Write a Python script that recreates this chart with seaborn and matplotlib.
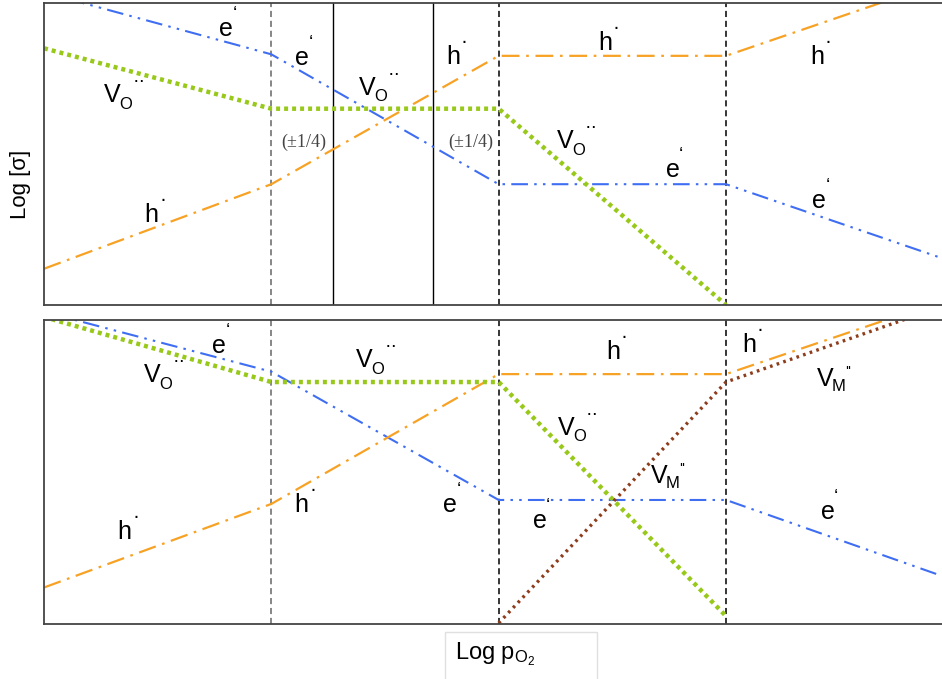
import seaborn as sns
import matplotlib.pyplot as plt
from matplotlib.patches import Rectangle

sns.set_style("white")
plt.rcParams["font.family"] = ["Liberation Sans", "DejaVu Sans"]
plt.rcParams["text.color"] = "black"
plt.rcParams["axes.labelcolor"] = "black"
plt.rcParams["mathtext.fontset"] = "custom"
plt.rcParams["mathtext.rm"] = "Liberation Sans"
plt.rcParams["mathtext.it"] = "Liberation Sans"
plt.rcParams["mathtext.bf"] = "Liberation Sans"

# Log pO2 breakpoints (arbitrary units) and read-off log values
x_full = [-1.0, 0.0, 1.0, 2.0, 2.95]
x_vo = [-1.0, 0.0, 1.0, 2.0]
x_vm = [1.0, 2.0, 2.95]

sigma_e = [10.35, 8.3, 4.0, 4.0, 1.55]
sigma_h = [1.2, 4.0, 8.25, 8.25, 10.7]
sigma_vo = [8.5, 6.5, 6.5, 0.0]

defects_e = [10.27, 8.3, 4.08, 4.08, 1.58]
defects_h = [1.2, 3.95, 8.22, 8.22, 10.63]
defects_vo = [10.1, 7.96, 7.96, 0.26]
defects_vm = [0.03, 7.96, 10.45]

regime_bounds = [0.0, 1.0, 2.0]
sigma_extra_bounds = [0.27, 0.71]

# defect labels: kind, x, y (centre of the main letter)
sigma_labels = [
    ("e", -0.198, 9.14), ("e", 0.136, 8.18), ("VO", -0.699, 6.95), ("h", -0.527, 2.98),
    ("VO", 0.422, 7.19), ("h", 0.80, 8.21), ("h", 1.468, 8.68), ("VO", 1.292, 5.43),
    ("e", 1.767, 4.47), ("h", 2.40, 8.21), ("e", 2.41, 3.44),
]
defect_labels = [
    ("e", -0.229, 9.14), ("VO", -0.523, 8.19), ("h", -0.646, 3.03), ("h", 0.132, 3.91),
    ("VO", 0.409, 8.68), ("e", 0.787, 3.91), ("e", 1.182, 3.39), ("h", 1.503, 8.95),
    ("VO", 1.297, 6.45), ("VM", 1.705, 4.87), ("h", 2.10, 9.18), ("VM", 2.435, 8.06),
    ("e", 2.448, 3.68),
]
slope_note_x = [0.143, 0.875]
slope_note_y = 5.38

# main letter, subscript (text, dx, dy), superscript mark (text, dx, dy, size) in points
label_parts = {
    "e": ("e", None, ("‘", 6, 10.5, 14)),
    "h": ("h", None, ("·", 8, 11, 15)),
    "VO": ("V", ("O", 9.5, -6.5), ("··", 19, 9.5, 14)),
    "VM": ("V", ("M", 10, -5.4), ("''", 17, 4.7, 11)),
}

blue = "#3f6ef2"
orange = "#f7a224"
green = "#98c91a"
brown = "#8e3d1c"
ls_e = (0, (8, 3, 1.2, 3, 1.2, 3))
ls_h = (0, (8, 3, 1.2, 3))

fig = plt.figure(figsize=(9.42, 6.79), dpi=100)
ax1 = fig.add_axes([0.0467, 0.5508, 0.9533, 0.4448])
ax2 = fig.add_axes([0.0467, 0.0810, 0.9533, 0.4477])


def put_label(ax, kind, x, y):
    main, sub, sup = label_parts[kind]
    ax.text(x, y, main, fontsize=18, ha="center", va="center")
    if sub is not None:
        ax.annotate(sub[0], (x, y), xytext=(sub[1], sub[2]), textcoords="offset points",
                    fontsize=12, ha="center", va="center")
    ax.annotate(sup[0], (x, y), xytext=(sup[1], sup[2]), textcoords="offset points",
                fontsize=sup[3], ha="center", va="center")


def draw_panel(ax, e_vals, h_vals, vo_vals, labels):
    sns.lineplot(x=x_full, y=e_vals, ax=ax, color=blue, lw=1.5, linestyle=ls_e, sort=False)
    sns.lineplot(x=x_full, y=h_vals, ax=ax, color=orange, lw=1.6, linestyle=ls_h, sort=False)
    sns.lineplot(x=x_vo, y=vo_vals, ax=ax, color=green, lw=3.2, linestyle=(0, (0.9, 0.9)), sort=False)
    for i, xb in enumerate(regime_bounds):
        ax.axvline(xb, color="#666666" if i == 0 else "black", lw=1.1, linestyle=(0, (4, 2.5)), zorder=1)
    for kind, tx, ty in labels:
        put_label(ax, kind, tx, ty)
    ax.set_xlim(-1.0, 2.95)
    ax.set_ylim(0, 10)
    ax.set_xticks([])
    ax.set_yticks([])
    ax.spines["right"].set_visible(False)
    for s in ["left", "top", "bottom"]:
        ax.spines[s].set_color("#444444")
        ax.spines[s].set_linewidth(1.3)


draw_panel(ax1, sigma_e, sigma_h, sigma_vo, sigma_labels)
for xb in sigma_extra_bounds:
    ax1.axvline(xb, color="black", lw=1.0, zorder=1)
for tx in slope_note_x:
    ax1.text(tx, slope_note_y, "(±1/4)", fontsize=13, color="#444444", ha="center", va="center",
             family=["Liberation Serif", "DejaVu Serif"])
ax1.set_ylabel("Log [σ]", fontsize=16, va="center")
ax1.yaxis.set_label_coords(-0.026, 0.40)

draw_panel(ax2, defects_e, defects_h, defects_vo, defect_labels)
sns.lineplot(x=x_vm, y=defects_vm, ax=ax2, color=brown, lw=2.4, linestyle=(0, (0.8, 1.3)),
             sort=False)
ax2.set_ylabel("Log [defects]", fontsize=16, va="center")
ax2.yaxis.set_label_coords(-0.026, 0.49)

# x label in a light framed box below the plots
fig.add_artist(Rectangle((445 / 942, -0.02), 152 / 942, 1 - 632 / 679 + 0.02,
                         transform=fig.transFigure, fill=False, edgecolor="#e0e0e0", lw=1))
fig.text(455 / 942, 1 - 654 / 679, r"Log p$_{\mathrm{O}_2}$", fontsize=17, ha="left", va="center")

fig.savefig("out.png", dpi=100)
